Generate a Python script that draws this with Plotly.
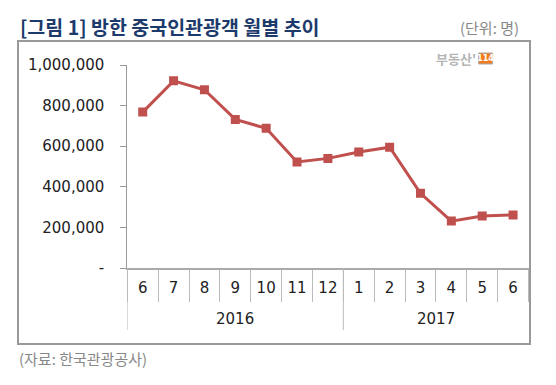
import plotly.graph_objects as go

years = ["2016"] * 7 + ["2017"] * 6
months = ["6", "7", "8", "9", "10", "11", "12", "1", "2", "3", "4", "5", "6"]
visitors = [768000, 922000, 878000, 732000, 688000, 522000, 540000,
            571000, 595000, 368000, 231000, 256000, 261000]
y_ticks = [0, 200000, 400000, 600000, 800000, 1000000]
y_labels = ["-", "200,000", "400,000", "600,000", "800,000", "1,000,000"]

title_text = "[그림 1] 방한 중국인관광객 월별 추이"
unit_text = "(단위: 명)"
source_text = "(자료: 한국관광공사)"

cats = [f"{y}-{m}" for y, m in zip(years, months)]

# page body has an 8px margin; lay out in reference pixel coordinates
OFF = 8
W, H = 556 - OFF, 385 - OFF
FL, FR, FT, FB = 18.5, 529.5, 42, 343       # outer frame (reference pixels)
PL, PR, PT, PB = 127, 529, 65, 268          # main plot area (reference pixels)
L, T = FL - OFF, FT - OFF
R, B = W - (FR - OFF), H - (FB - OFF)


def px(x):
    return (x - FL) / (FR - FL)


def py(y):
    return (FB - y) / (FB - FT)


KFONT = "Noto Sans CJK KR"
NFONT = "DejaVu Sans"

fig = go.Figure()
# empty subplot whose mirrored axis lines form the outer frame (added first, drawn below)
fig.add_trace(go.Scatter(x=[], y=[], xaxis="x2", yaxis="y2",
                         showlegend=False, hoverinfo="skip"))
fig.add_trace(go.Scatter(
    x=cats, y=visitors, mode="lines+markers",
    line=dict(color="#c0504d", width=3),
    marker=dict(symbol="square", size=9, color="#c0504d"),
    showlegend=False, hoverinfo="skip",
))

# year groups: boundaries and centres from the data
groups = []
for i, y in enumerate(years):
    if not groups or groups[-1][0] != y:
        groups.append([y, i, i])
    else:
        groups[-1][2] = i

shapes = [
    dict(type="rect", xref="paper", yref="paper",
         x0=px(479), x1=px(493), y0=py(64), y1=py(53),
         line=dict(color="#aaa", width=1), fillcolor="#ef7d22", layer="above"),
]
annotations = []
for name, i0, i1 in groups:
    shapes.append(dict(type="line", xref="x", yref="paper",
                       x0=i0 - 0.5, x1=i0 - 0.5, y0=py(PB), y1=py(330),
                       line=dict(color="#bbb", width=1)))
    annotations.append(dict(text=name, xref="x", yref="paper",
                            x=(i0 + i1) / 2, y=py(319),
                            xanchor="center", yanchor="middle", showarrow=False,
                            font=dict(family=NFONT, size=15, color="#222")))

annotations += [
    dict(text="<b>" + title_text + "</b>", xref="paper", yref="paper",
         x=px(17), y=py(26), xanchor="left", yanchor="middle",
         showarrow=False, font=dict(family=KFONT, size=19.5, color="#1d3a6c")),
    dict(text=unit_text, xref="paper", yref="paper",
         x=px(521), y=py(27), xanchor="right", yanchor="middle",
         showarrow=False, font=dict(family=KFONT, size=15, color="#888")),
    dict(text=source_text, xref="paper", yref="paper",
         x=px(16), y=py(359), xanchor="left", yanchor="middle",
         showarrow=False, font=dict(family=KFONT, size=15, color="#888")),
    dict(text="<b>부동산'</b>", xref="paper", yref="paper",
         x=px(478), y=py(58.5), xanchor="right", yanchor="middle",
         showarrow=False, font=dict(family=KFONT, size=13, color="#b5b5b5")),
    dict(text="<b>114</b>", xref="paper", yref="paper",
         x=px(486), y=py(58.5), xanchor="center", yanchor="middle",
         showarrow=False, font=dict(family="DejaVu Sans Condensed", size=9, color="white")),
]

frame_axis = dict(domain=[0, 1], range=[0, 1], showline=True, mirror=True,
                  linecolor="#999", linewidth=1.5, showticklabels=False,
                  ticks="", showgrid=False, zeroline=False, automargin=False,
                  fixedrange=True)

fig.update_layout(
    width=W, height=H,
    margin=dict(l=L, r=R, t=T, b=B, autoexpand=False),
    paper_bgcolor="white", plot_bgcolor="rgba(0,0,0,0)",
    xaxis=dict(
        domain=[px(PL), px(PR)], anchor="y",
        type="category", range=[-0.5, len(cats) - 0.5],
        tickvals=cats, ticktext=months,
        tickson="boundaries", ticks="outside",
        ticklen=32, tickcolor="#bbb", tickwidth=1,
        showline=True, linecolor="#aaa", linewidth=1.5,
        showgrid=False, zeroline=False, automargin=False,
        ticklabelstandoff=5,
        tickfont=dict(family=NFONT, size=15, color="#222"),
    ),
    yaxis=dict(
        domain=[py(PB), py(PT)], anchor="x",
        range=[0, 1000000], tickvals=y_ticks, ticktext=y_labels,
        ticks="outside", ticklen=6, tickcolor="#999",
        showline=True, linecolor="#999", linewidth=1,
        showgrid=False, zeroline=False, automargin=False,
        ticklabelstandoff=13,
        tickfont=dict(family=NFONT, size=15, color="#222"),
    ),
    xaxis2=dict(anchor="y2", **frame_axis),
    yaxis2=dict(anchor="x2", **frame_axis),
    shapes=shapes,
    annotations=annotations,
)

fig.write_html("out.html")
